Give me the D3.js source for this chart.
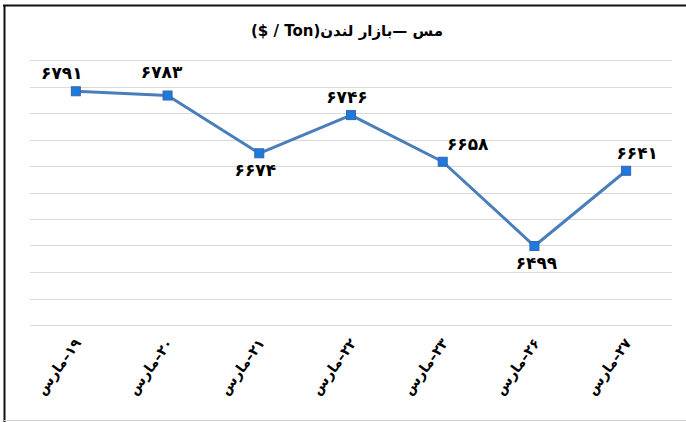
<!DOCTYPE html>
<html lang="fa">
<head>
  <meta charset="UTF-8">
  <title>مس - بازار لندن</title>
  <style>
    body{ margin: 0; background: #fff; }
    .grid line{ stroke: #d9d9d9; stroke-width: 1px; }
    .line{ fill: none; stroke: #4a7ebb; stroke-width: 3px; stroke-linejoin: round; }
    .dot{ fill: #1f7ae0; stroke: #3565a8; stroke-width: 1px; }
    text{ font-family: "DejaVu Sans", sans-serif; font-weight: bold; fill: #000; }
  </style>
</head>
<body>
  <script src="https://cdn.jsdelivr.net/npm/d3@7/dist/d3.min.js"></script>
  <script>
    const categories = ['۱۹–مارس', '۲۰–مارس', '۲۱–مارس', '۲۲–مارس', '۲۳–مارس', '۲۶–مارس', '۲۷–مارس'];
    const values = [6791, 6783, 6674, 6746, 6658, 6499, 6641];
    const valueLabels = ['۶۷۹۱', '۶۷۸۳', '۶۶۷۴', '۶۷۴۶', '۶۶۵۸', '۶۴۹۹', '۶۶۴۱'];
    const labelBelow = [false, false, true, false, false, true, false];
    const yTicks = d3.range(6350, 6851, 50);
    const title = 'مس —بازار لندن(Ton / $)';

    // label nudges (as dragged in the original)
    const labelDx = [-14, -6, -4, -4, 25, 2, 11];
    const labelDy = [0, -6, 0, 0, 0, 0, 0];

    const width = 686, height = 422;
    const plotLeft = 30, plotRight = 672, plotTop = 60, plotBottom = 325;

    const svg = d3.select('body').append('svg').attr('width', width).attr('height', height);

    // frame
    svg.append('line').attr('x1', 3).attr('x2', width).attr('y1', 5.5).attr('y2', 5.5)
      .attr('stroke', '#111').attr('stroke-width', 2);
    svg.append('line').attr('x1', 4.5).attr('x2', 4.5).attr('y1', 5).attr('y2', height)
      .attr('stroke', '#111').attr('stroke-width', 2);
    svg.append('line').attr('x1', 4).attr('x2', width).attr('y1', 420.5).attr('y2', 420.5)
      .attr('stroke', '#d0d0d0').attr('stroke-width', 1);

    const x = d3.scaleBand().domain(categories).range([plotLeft, plotRight]);
    const y = d3.scaleLinear().domain([6350, 6850]).range([plotBottom, plotTop]);
    const cx = d => x(d) + x.bandwidth() / 2;

    svg.append('g').attr('class', 'grid')
      .selectAll('line').data(yTicks).enter().append('line')
        .attr('x1', plotLeft).attr('x2', plotRight)
        .attr('y1', d => Math.round(y(d)) + 0.5).attr('y2', d => Math.round(y(d)) + 0.5);

    svg.append('text').attr('x', 347).attr('y', 36)
      .attr('text-anchor', 'middle').attr('direction', 'rtl')
      .style('font-size', '15px').text(title);

    const pts = categories.map((c, i) => ({ c: c, v: values[i], t: valueLabels[i], below: labelBelow[i], i: i }));
    const line = d3.line().x(d => cx(d.c)).y(d => y(d.v));

    svg.append('path').datum(pts).attr('class', 'line').attr('d', line);

    svg.selectAll('rect.dot').data(pts).enter().append('rect')
      .attr('class', 'dot')
      .attr('x', d => cx(d.c) - 4.5).attr('y', d => y(d.v) - 4.5)
      .attr('width', 9).attr('height', 9);

    svg.selectAll('text.val').data(pts).enter().append('text')
      .attr('class', 'val')
      .attr('x', d => cx(d.c) + labelDx[d.i])
      .attr('y', d => (d.below ? y(d.v) + 23 : y(d.v) - 12) + labelDy[d.i])
      .attr('text-anchor', 'middle')
      .style('font-size', '17px')
      .text(d => d.t);

    svg.selectAll('text.cat').data(categories).enter().append('text')
      .attr('class', 'cat')
      .attr('direction', 'rtl')
      .attr('text-anchor', 'start')
      .attr('transform', d => `translate(${cx(d) + 6},${343}) rotate(-54)`)
      .style('font-size', '14px')
      .text(d => d);
  </script>
</body>
</html>
